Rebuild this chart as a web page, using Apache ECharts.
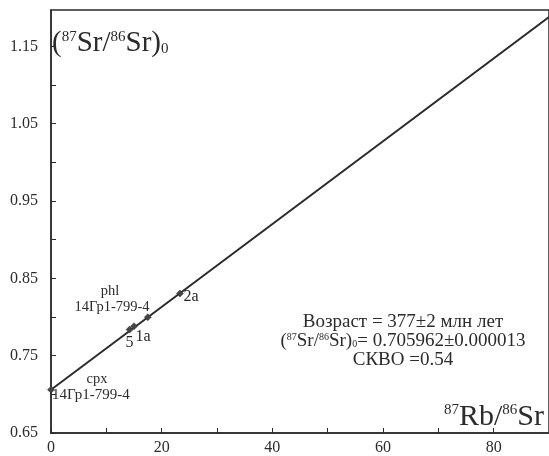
<!DOCTYPE html>
<html><head><meta charset="utf-8">
<script src="https://cdn.jsdelivr.net/npm/echarts@6/dist/echarts.min.js"></script>
<style>html,body{margin:0;padding:0;background:#fff}#c{width:549px;height:456px}</style>
</head><body><div id="c"></div>
<script>
// Data
const pointNames = ['cpx', '5', '1a', '', '2a'];
const rbSr = [0.0, 14.2, 15.0, 17.5, 23.3];
const srSr = [0.7060, 0.7837, 0.7881, 0.7998, 0.8303];
const isoX = [0, 90];
const isoY = [0.7060, 1.1879];
const xTickLabels = ['0', '20', '40', '60', '80'];
const yTickLabels = ['0.65', '0.75', '0.85', '0.95', '1.05', '1.15'];

const font = '"Liberation Serif","DejaVu Serif",serif';
const col = '#2b2b2b';
const chart = echarts.init(document.getElementById('c'));
const labelOffsets = {'5': [0, 13], '1a': [9, 11], '2a': [11, 3], 'cpx': [0, 0], '': [0, 0]};
chart.setOption({
  animation: false,
  grid: {left: 51, top: 10, bottom: 22, right: -4, show: true, borderColor: col, borderWidth: 1.5},
  xAxis: {
    type: 'value', min: 0, max: 90, interval: 10,
    axisLine: {lineStyle: {color: col, width: 1.5}},
    axisTick: {inside: true, length: 5, lineStyle: {color: col}},
    splitLine: {show: false},
    axisLabel: {
      color: col, fontFamily: font, fontSize: 16, margin: 7, showMaxLabel: false,
      formatter: v => xTickLabels.includes(String(Math.round(v))) ? String(Math.round(v)) : ''
    }
  },
  yAxis: {
    type: 'value', min: 0.65, max: 1.197, interval: 0.05,
    axisLine: {lineStyle: {color: col, width: 1.5}},
    axisTick: {inside: true, length: 5, lineStyle: {color: col}},
    splitLine: {show: false},
    axisLabel: {
      color: col, fontFamily: font, fontSize: 16, margin: 13, showMaxLabel: false,
      formatter: v => { const s = v.toFixed(2); return yTickLabels.includes(s) ? s : ''; }
    }
  },
  series: [
    {
      type: 'line', data: isoX.map((x, i) => [x, isoY[i]]), symbol: 'none',
      lineStyle: {color: col, width: 2}, z: 2
    },
    {
      type: 'scatter', symbol: 'diamond', symbolSize: [7, 7],
      itemStyle: {color: '#444', borderColor: '#333', borderWidth: 0.5, opacity: 1},
      data: rbSr.map((x, i) => ({
        value: [x, srSr[i]], name: pointNames[i],
        label: {show: pointNames[i] !== '' && pointNames[i] !== 'cpx', formatter: '{b}',
          position: 'inside', offset: labelOffsets[pointNames[i]],
          color: col, opacity: 1, textBorderWidth: 0, textBorderColor: 'transparent',
          fontFamily: font, fontSize: 16}
      })),
      z: 3
    }
  ],
  graphic: [
    {type: 'text', left: 52, top: 29, style: {
      rich: {
        b: {fontFamily: font, fontSize: 29, fill: col, lineHeight: 32},
        sup: {fontFamily: font, fontSize: 15, fill: col, lineHeight: 32, padding: [0, 0, 13, 0]},
        sub: {fontFamily: font, fontSize: 15, fill: col, lineHeight: 32, padding: [12, 0, 0, 0]}
      },
      text: '{b|(}{sup|87}{b|Sr/}{sup|86}{b|Sr)}{sub|0}'
    }},
    {type: 'text', left: 444, top: 402, style: {
      rich: {
        b: {fontFamily: font, fontSize: 30, fill: col, lineHeight: 32},
        sup: {fontFamily: font, fontSize: 15, fill: col, lineHeight: 32, padding: [0, 0, 13, 0]}
      },
      text: '{sup|87}{b|Rb/}{sup|86}{b|Sr}'
    }},
    {type: 'text', x: 110, y: 291, style: {text: 'phl', fontFamily: font, fontSize: 14.5, fill: col, align: 'center', verticalAlign: 'middle'}},
    {type: 'text', x: 112, y: 307, style: {text: '14Гр1-799-4', fontFamily: font, fontSize: 14.5, fill: col, align: 'center', verticalAlign: 'middle'}},
    {type: 'text', x: 97, y: 379, style: {text: 'cpx', fontFamily: font, fontSize: 14.5, fill: col, align: 'center', verticalAlign: 'middle'}},
    {type: 'text', x: 52, y: 395, style: {text: '14Гр1-799-4', fontFamily: font, fontSize: 15, fill: col, align: 'left', verticalAlign: 'middle'}},
    {type: 'text', x: 403, y: 322, style: {text: 'Возраст = 377±2 млн лет', fontFamily: font, fontSize: 19, fill: col, align: 'center', verticalAlign: 'middle'}},
    {type: 'text', x: 403, y: 341, style: {
      align: 'center', verticalAlign: 'middle',
      rich: {
        b: {fontFamily: font, fontSize: 19, fill: col, lineHeight: 20},
        sup: {fontFamily: font, fontSize: 10, fill: col, lineHeight: 20, padding: [0, 0, 8, 0]},
        sub: {fontFamily: font, fontSize: 10, fill: col, lineHeight: 20, padding: [6, 0, 0, 0]}
      },
      text: '{b|(}{sup|87}{b|Sr/}{sup|86}{b|Sr)}{sub|0}{b|= 0.705962±0.000013}'
    }},
    {type: 'text', x: 403, y: 360, style: {text: 'СКВО =0.54', fontFamily: font, fontSize: 19, fill: col, align: 'center', verticalAlign: 'middle'}}
  ]
});
</script>
</body></html>
